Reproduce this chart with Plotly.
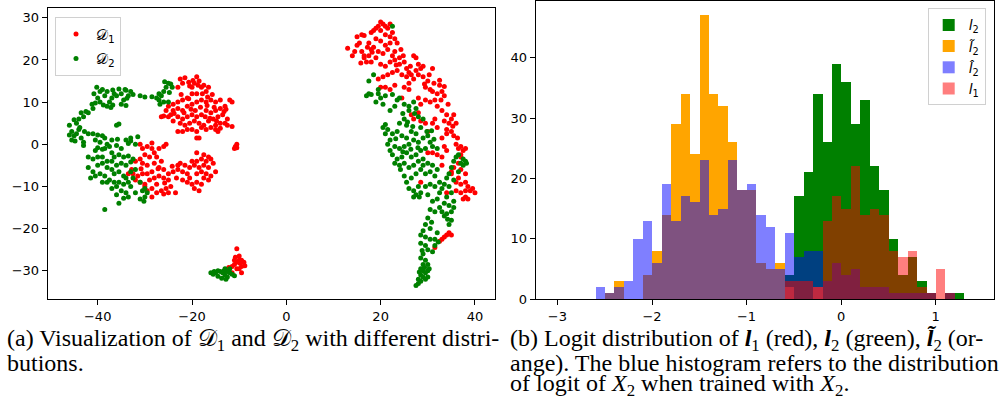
import plotly.graph_objects as go

# ---------------- (a) scatter data: D1 (red) and D2 (green) ----------------
d1_left_upper = [(-22.5,15.5),(-22,14.5),(-21.5,15.8),(-23,13.5),(-20.5,13.8),(-20,13.5),(-19.5,14.5),(-19,16),(-18.5,15),(-18,13.5),(-17.5,14),(-17,12.5),(-16.5,13.5),(-19,12),(-20,12),(-21,11),(-22,10.5),(-23,10),(-24,9.5),(-25,9),(-25.5,8),(-24.5,7),(-24,8),(-23,8.5),(-22,8),(-21,9),(-20,9.5),(-19,10),(-18,10.5),(-17,10),(-16,10.5),(-15,10),(-14,10.5),(-12,10.5),(-11.5,10),(-13,9),(-14,8.5),(-15,8),(-16,7.5),(-17,8),(-18,7),(-19,6.5),(-20,7),(-21,6.5),(-22,6),(-23,6.5),(-24,5.5),(-25,6.5),(-22.5,5),(-21.5,4.5),(-20.5,5),(-19.5,5.5),(-18.5,5),(-17.5,4.5),(-16.5,5.5),(-15.5,6),(-14.5,6.5),(-13.5,7),(-12.5,6),(-13,5),(-14,5),(-15,4.5),(-16,4),(-17,3.5),(-18,4),(-19,3),(-20,3.5),(-21,3.5),(-22,3),(-23,3),(-18.5,1.5),(-19,1.5),(-15,3.5),(-14.5,3),(-11.5,4.2),(-12.5,4.5),(-10.8,-0.5),(-10.5,0),(-11,-1),(-10.5,-0.8),(-26.5,6.5),(-26,6.7),(-22.3,11.8),(-20.7,10.8),(-17.8,12),(-16.8,9.2),(-15.3,8.8),(-14.8,5.5),(-13.2,7.8),(-12.8,8.3),(-21.7,7.5),(-20.2,8.3),(-18.2,8.8),(-23.8,7.3),(-19.3,8),(-17.2,6.5),(-16.2,6.2),(-14,3.8),(-16.7,11.2),(-15.7,11.8),(-19.8,15.1),(-20.7,14.7),(-18.7,14)]
d1_left_lower = [(-31,0),(-30.5,-1),(-29.5,-0.5),(-28.5,-1),(-28,-2),(-27,-1),(-26,-0.5),(-25.5,0),(-27.5,-3),(-29,-3),(-30,-2.5),(-31,-3.5),(-32,-4),(-30.5,-4.5),(-29.5,-5),(-28,-4.5),(-26.5,-4),(-27,-5.5),(-28.5,-6.5),(-29.5,-7),(-30.5,-7),(-31.5,-7.5),(-32.5,-7),(-33.5,-7),(-32,-8.5),(-31,-9),(-30,-9.5),(-29,-8.5),(-28,-8),(-27,-7.5),(-26,-8),(-25,-8.5),(-24.5,-10),(-25.5,-10.5),(-26.5,-11),(-27.5,-11.5),(-28.5,-10.5),(-29.5,-11),(-28.5,-12.5),(-26,-11.8),(-25,-11.5),(-23.5,-11.5),(-30,-10),(-27.5,-9.5),(-26,-6),(-25,-7),(-24,-6.5),(-23,-6),(-22,-6.5),(-21,-7),(-22,-8.5),(-21,-9),(-20,-9.5),(-19,-9),(-18,-9.5),(-19.5,-10.5),(-18.5,-11),(-20.5,-8),(-19,-7),(-18,-6.5),(-17,-7),(-16,-7.5),(-15,-6.5),(-16.5,-5.5),(-17.5,-5),(-18.5,-5.5),(-19.5,-5),(-20.5,-5.5),(-21.5,-5),(-22.5,-4.5),(-20,-4),(-19,-4),(-18,-3.5),(-17,-4),(-16,-3.5),(-16.5,-3),(-17.5,-2.5),(-19,-2),(-16.5,-8.5),(-17.5,-8),(-15.5,-4.5),(-23,-5),(-28.5,0.3),(-27.2,-5.8),(-30.8,-5.8),(-32.8,-6),(-25.8,-9.2),(-23.3,-8),(-24.2,-5.2)]
d1_small = [(-11.5,-29),(-11,-28.5),(-10.5,-28),(-11,-27.5),(-10,-27.5),(-10,-26.5),(-10.5,-24.8),(-9.5,-27.5),(-9,-28),(-9.5,-29),(-10,-29.5),(-9.5,-30.5),(-10.5,-29.5),(-11.5,-30.5),(-12.2,-29.2),(-8.8,-28.8),(-9.8,-28.2),(-10.8,-26.8)]
d1_right = [(13,22.8),(14,21),(14.5,22),(15,25.5),(15.5,24),(16,26),(16.5,25.8),(15,23.5),(16,22),(16.5,20.5),(17,19.5),(17.5,21),(18,22.5),(17.5,24),(18,26.5),(18.5,27),(19,27.5),(19.5,28),(20,29),(20.5,28.5),(21,28),(21.5,27.5),(22,28.5),(20,27),(21,26),(22,25.5),(22.5,26.5),(23,25),(23.5,24),(22,24),(21,23.5),(20,24.5),(19,25),(18.5,23),(19.5,22),(20.5,21.5),(21.5,22.5),(19,20.5),(18,19.5),(20,19),(21,18.5),(22,19.5),(23,20),(24,20.5),(23,22),(22.5,21),(24,19),(25,19.5),(25.5,18),(26,17),(26.5,16.5),(27,21),(27.5,20.5),(28,19),(28.5,18),(29,18.5),(28,16.5),(27,15.5),(26,14.5),(27.5,17.5),(29,16),(30,15),(31,18),(29.5,13.5),(30.5,13),(31,12.5),(32,12),(32.5,14),(33,12.5),(33.5,11.5),(31.5,10.5),(30.5,10),(32,9),(33,8),(34,7),(33.5,5.5),(34.5,5),(35,6),(35.5,7),(36,5),(34,3.5),(35,3),(35.5,2),(34,2.5),(36,0),(37,-0.5),(37.5,-1.5),(37,-2.5),(38,-1),(36.5,-1),(37,-3),(36.5,-4.5),(35.5,-5.5),(35,-6.5),(37,-6),(38,-7),(36.5,-8),(36,-9),(37,-9.5),(38,-9),(38.5,-10),(39,-11),(40,-11.5),(39.5,-10.5),(38,-11),(37,-11.5),(38,-12.5),(37.5,-13),(38.5,-13),(36,-11),(35,-7),(34,-11.5),(31,-2),(30,-2),(33,-5),(28.5,-9),(25,13.5),(26,13),(25.5,16),(24.5,16.5),(23.5,17.5),(22.5,17),(21.5,16.5),(20.5,16),(19.5,15.5),(21,13.5),(22,13),(23,14),(20,13.5),(24.5,11),(26.5,7),(27,6),(28,7.5),(28.5,5.5),(29.5,5),(31.5,6),(31,5),(32,4),(30,3),(33,1.5),(33.5,-0.5),(34,-1.5),(32,-2.5),(33,-3),(28,11),(28.5,9.5),(29.5,10.5),(33,-22.5),(33.5,-22),(34,-21.5),(34.5,-21),(35,-21.5),(32.5,-23),(31.5,-24.5),(16.5,21),(18.2,21.8),(15.8,19.3),(17.2,23),(24.3,22.5),(23.3,18.8),(24.8,21),(26.3,18.5),(29.3,14.3),(31.3,14.5),(30.3,16.5),(32.8,10.5),(34.3,9.5),(35.3,4.3),(36.3,1.5),(33.5,13.7),(32.5,15.2)]

d2_left = [(-46,4.5),(-45.5,3),(-45,2),(-45.5,1),(-44.5,5),(-44,3.5),(-44,6),(-43.5,7.5),(-43,6.5),(-44.5,2.5),(-43.5,1.5),(-43,0.5),(-43,-0.3),(-42.5,7.8),(-45,5.8),(-44.8,0.8),(-46,2.2),(-43.8,4),(-42.8,3),(-42,2.5),(-42,7.5),(-41,8.5),(-40.5,9.8),(-40,11),(-39.5,12.5),(-40.2,13.5),(-39,13),(-38.5,11.5),(-39.5,10),(-38.8,9.3),(-37.5,10),(-38,12.5),(-37,11),(-36.5,12),(-37.2,8.7),(-38,9),(-41.2,9.5),(-40.8,12),(-36.8,9.3),(-36,11.5),(-35,12),(-34,12.8),(-33.5,11.5),(-34.5,10.5),(-35,9.5),(-34,9.2),(-33,12.5),(-34.2,13),(-32.5,11.8),(-31,11.5),(-30,11.2),(-28.5,11.3),(-27.5,11),(-27,12),(-26.5,11.5),(-26,12.5),(-25.5,13.5),(-25,14.5),(-24.5,14.3),(-26,10),(-27,10.5),(-25,10),(-24.8,12.3),(-25.8,14.8),(-26.8,9.5),(-24.2,13.5),(-33.8,10.9),(-35.5,13.1),(-36.8,12.9),(-41,2.5),(-40,2.2),(-39,2),(-40.5,1),(-39.5,0.5),(-38.5,1.5),(-38,0),(-37.5,-0.5),(-36,-0.3),(-35,-1),(-34,1),(-33.5,0.2),(-36,4.5),(-35.5,4.8),(-33,0.8),(-31.5,1.8),(-32,0),(-38.5,-1),(-37,-2),(-36.5,-3),(-35.5,-2.5),(-34.5,-3),(-33.5,-2.8),(-33,-4.2),(-32.5,-3.5),(-34,-5),(-35,-4.5),(-36,-5),(-37,-4),(-38,-4),(-39,-3),(-40,-3),(-41,-3.5),(-40,-5),(-39,-4.5),(-38,-5.5),(-37,-6),(-36.5,-7),(-35.5,-6.5),(-34.5,-7.5),(-34,-8),(-33,-6.5),(-32,-6),(-32.5,-8),(-33.5,-9),(-34.5,-9.5),(-35.5,-9),(-36.5,-9),(-37.5,-8.5),(-38.5,-7.5),(-39.5,-7),(-40.5,-7.5),(-41,-6.5),(-42,-5.5),(-41.5,-8),(-39,-9),(-38,-9),(-36,-10),(-35,-11),(-34,-11.5),(-33,-10),(-32,-11.5),(-30.5,-11),(-29.5,-11.5),(-30,-12.5),(-31,-13),(-30.2,-13.5),(-33.5,-12.5),(-34.5,-12.8),(-35.5,-14),(-38.5,-15.5),(-36,-12),(-37,-10.5),(-39,-1.2),(-40.5,-1.5),(-42,-3),(-40,-0.8),(-37,1),(-35.8,1.2),(-33,1.5),(-31,-9),(-30,-10.5)]
d2_small = [(-16,-30.5),(-15.5,-30.8),(-15,-30.5),(-14.5,-30),(-14,-30.2),(-13.5,-30.5),(-13,-31),(-12.5,-31.5),(-13,-29.5),(-12.5,-30.2),(-12,-30.5),(-12,-29.5),(-11.5,-30.8),(-11,-31.2),(-14.5,-31.3),(-13.7,-31.8),(-12.8,-32),(-15.3,-30.2),(-13.2,-30)]
d2_right = [(22.5,28),(18.5,16.5),(17.5,15),(17,11.5),(17.5,12),(19.5,13),(20,11),(21,11.5),(19,10),(20.5,9.5),(22,8),(23,9),(24,11),(25,9.5),(26,8),(25,6),(24,5),(25.5,4.5),(27,10),(27.5,8.5),(28,6.5),(29,6),(28.5,4),(27.5,2.5),(26.5,3),(25.5,1.5),(24.5,2),(23.5,3),(22.5,2.5),(21.5,3.5),(21,2.5),(22,1),(23,-0.5),(24,-1),(25,-0.5),(26,0),(27,1),(28,0.5),(29,1.5),(30,2),(30.5,0.5),(31,-0.5),(29.5,-1),(28.5,-1.5),(27.5,-2.5),(26.5,-3),(25.5,-2),(24.5,-3),(23.5,-3.5),(22.5,-2.5),(23,-4.5),(24,-5),(25,-4.5),(26,-5.5),(27,-5),(28,-4),(29,-3.5),(30,-4.5),(31,-5),(32,-6),(31.5,-7.5),(30.5,-6.5),(29.5,-7),(28.5,-6),(27.5,-7),(26.5,-8),(25.5,-9),(26,-10.5),(27,-11),(27.5,-12),(28,-10),(28.5,-11.5),(29.5,-10),(30.5,-9.5),(31.5,-10),(32.5,-9),(33.5,-9.5),(34,-8),(34.5,-7),(35,-5.5),(35.5,-4),(36,-3),(36.5,-2.5),(37,-4.5),(37.5,-5),(38,-4),(35.5,-8.5),(34.5,-10),(35,-11.5),(34,-12.5),(33.5,-14),(34.5,-14.5),(35.5,-13.5),(35,-16),(34,-16.5),(35,-18),(33.5,-17),(32.5,-15),(31.5,-16),(30.5,-15.5),(31,-13.5),(32,-13),(32.5,-11.5),(30,-17.5),(29.5,-19),(30.5,-20),(29,-20.5),(28.5,-21.5),(29.5,-22),(30.5,-22.5),(31.5,-22.5),(32,-21),(28.5,-23.5),(29.5,-24),(30,-25),(31,-25.5),(29,-26),(28.5,-27),(29.5,-27.5),(30,-28.5),(29,-28.5),(28.5,-29.5),(29,-30),(29.5,-30.5),(30,-30),(28.5,-31),(29,-31.5),(28,-32),(28.5,-32.5),(29.5,-32),(28,-33),(27.5,-33.5),(30,-31.5),(29.3,-29.2),(28.2,-30.3),(30.3,-29.5),(28.8,-25.2),(31.5,-24),(32.2,-23.2),(30.8,-18.5),(34.5,-19),(34.2,-17.8),(35.5,-15),(33,-16),(33,-10.5),(36.5,-6.5),(37.5,-3.5),(38.2,-4.5),(27,-12.5),(28.2,-12.5),(30,-12),(25,-7.5),(24.2,-6),(22,-1.5),(21.5,0),(20.5,4),(21,4.7),(19.5,12),(18,11.8),(26,9),(27.2,7.3),(25.7,5.3),(24.7,7.3),(23.5,10.5),(22.5,11.8),(26.8,4.2),(29.8,3),(30.8,3.2),(31.3,1.2),(32,-1),(29,-5),(24.7,-1.8),(23.2,1.3),(26.4,-1.2),(27.9,-0.8)]

d1_points = d1_left_upper + d1_left_lower + d1_small + d1_right
d2_points = d2_left + d2_small + d2_right

# ---------------- (b) histogram data (bin left edges, width 0.1) ----------------
bin_left = [-2.6, -2.5, -2.4, -2.3, -2.2, -2.1, -2.0, -1.9, -1.8, -1.7, -1.6, -1.5, -1.4, -1.3,
            -1.2, -1.1, -1.0, -0.9, -0.8, -0.7, -0.6, -0.5, -0.4, -0.3, -0.2, -0.1, 0.0, 0.1,
            0.2, 0.3, 0.4, 0.5, 0.6, 0.7, 0.8, 0.9, 1.0, 1.1, 1.2]
bin_width = 0.1
l2_counts = [0]*20 + [4, 17, 21, 34, 26, 39, 36, 29, 33, 22, 18, 10, 4, 7, 3, 1, 0, 1, 1]
l2_tilde_counts = [0, 1, 3, 0, 0, 4, 8, 14, 29, 34, 24, 47, 34, 32, 26, 18, 18, 6, 5, 6, 2, 0, 0, 2] + [0]*15
l2_hat_counts = [2, 1, 2, 3, 10, 13, 6, 19, 13, 17, 16, 23, 14, 15, 23, 18, 19, 14, 12, 5, 11, 7, 8, 8,
                 3, 6, 4, 5, 2, 2, 2, 1, 1, 1, 1, 1, 0, 1, 0]
l1_counts = [0]*20 + [3, 3, 3, 2, 13, 17, 15, 22, 14, 15, 14, 8, 7, 8, 2, 1, 5, 1, 0]

bin_centers = [b + bin_width / 2 for b in bin_left]

# ---------------- captions ----------------
caption_a = ["(a) Visualization of 𝒟<sub>1</sub> and 𝒟<sub>2</sub> with different distri-",
             "butions."]
caption_b = ["(b) Logit distribution of <b><i>l</i></b><sub>1</sub> (red), <b><i>l</i></b><sub>2</sub> (green), <b><i>l̃</i></b><sub>2</sub> (or-",
             "ange). The blue histogram refers to the distribution",
             "of logit of <i>X</i><sub>2</sub> when trained with <i>X</i><sub>2</sub>."]

W, H = 1008, 411
fig = go.Figure()

fig.add_trace(go.Scatter(
    x=[p[0] for p in d1_points], y=[p[1] for p in d1_points], mode="markers",
    marker=dict(color="#ff0000", size=5), name="𝒟<sub>1</sub>",
    xaxis="x", yaxis="y", legend="legend", legendgroup="a1"))
fig.add_trace(go.Scatter(
    x=[p[0] for p in d2_points], y=[p[1] for p in d2_points], mode="markers",
    marker=dict(color="#008000", size=5), name="𝒟<sub>2</sub>",
    xaxis="x", yaxis="y", legend="legend", legendgroup="a2"))

bar_specs = [
    (l2_counts, "#008000", 1.0, "<i>l</i><sub>2</sub>"),
    (l2_tilde_counts, "#ffa500", 1.0, "<i>l̃</i><sub>2</sub>"),
    (l2_hat_counts, "#0000ff", 0.5, "<i>l̂</i><sub>2</sub>"),
    (l1_counts, "#ff0000", 0.5, "<i>l</i><sub>1</sub>"),
]
for i, (counts, color, op, name) in enumerate(bar_specs):
    fig.add_trace(go.Bar(
        x=bin_centers, y=counts, width=bin_width, marker=dict(color=color, line=dict(width=0)),
        opacity=op, name=name, xaxis="x2", yaxis="y2", legend="legend2",
        legendgroup="b%d" % i))

def px_x(p):
    return p / W

def px_y(p):
    return 1 - p / H

axis_common = dict(showline=True, mirror=True, linecolor="black", linewidth=1,
                   ticks="outside", ticklen=5, tickwidth=1, tickcolor="black",
                   showgrid=False, zeroline=False, automargin=False,
                   tickfont=dict(family="DejaVu Sans", size=13, color="black"))

fig.update_layout(
    template="none",
    width=W, height=H, autosize=False,
    margin=dict(l=0, r=0, t=0, b=0, pad=0),
    font=dict(family="DejaVu Sans", color="black"),
    paper_bgcolor="white", plot_bgcolor="white",
    barmode="overlay", bargap=0,
    xaxis=dict(domain=[px_x(47.7), px_x(495)], range=[-50.6, 44.25],
               tickvals=[-40, -20, 0, 20, 40], anchor="y", **axis_common),
    yaxis=dict(domain=[px_y(299), px_y(8.3)], range=[-36.7, 32.25],
               tickvals=[-30, -20, -10, 0, 10, 20, 30], anchor="x", **axis_common),
    xaxis2=dict(domain=[px_x(535.7), px_x(994.3)], range=[-3.23, 1.62],
                tickvals=[-3, -2, -1, 0, 1], anchor="y2", **axis_common),
    yaxis2=dict(domain=[px_y(299), px_y(1)], range=[0, 49.4],
                tickvals=[0, 10, 20, 30, 40], anchor="x2", **axis_common),
    legend=dict(x=px_x(55), y=px_y(16.7), xanchor="left", yanchor="top",
                bgcolor="white", bordercolor="#d0d0d0", borderwidth=1,
                font=dict(family="DejaVu Sans", size=15, color="black"),
                tracegroupgap=2, itemwidth=30),
    legend2=dict(x=px_x(927.7), y=px_y(8.3), xanchor="left", yanchor="top",
                 bgcolor="white", bordercolor="#d0d0d0", borderwidth=1,
                 font=dict(family="DejaVu Sans", size=14, color="black"),
                 tracegroupgap=0, itemwidth=30),
    showlegend=True,
)

cap_font = dict(family="Liberation Serif", size=24, color="black")
line_y = [340.2, 362.6, 384.6]
for i, t in enumerate(caption_a):
    fig.add_annotation(text=t, xref="paper", yref="paper", x=px_x(5), y=px_y(line_y[i]),
                       xanchor="left", yanchor="middle", showarrow=False, font=cap_font)
for i, t in enumerate(caption_b):
    fig.add_annotation(text=t, xref="paper", yref="paper", x=px_x(508), y=px_y(line_y[i]),
                       xanchor="left", yanchor="middle", showarrow=False, font=cap_font)

fig.write_html("out.html", config={"displayModeBar": False},
               post_script="document.body.style.margin='0';document.body.style.padding='0';")
